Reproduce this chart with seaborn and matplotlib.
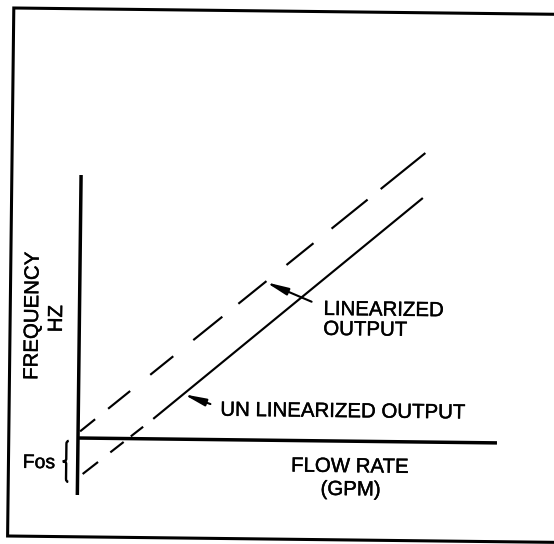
import matplotlib
matplotlib.use("Agg")
import matplotlib.pyplot as plt
import matplotlib.patheffects as pe
import seaborn as sns
from matplotlib.transforms import Affine2D, IdentityTransform
from matplotlib.path import Path
from matplotlib.patches import PathPatch
from matplotlib.lines import Line2D

# ---- data (flow rate vs frequency, arbitrary schematic units) ----
lin_flow = [0.0, 34.4]          # linearized output (dashed)
lin_freq = [0.5, 28.9]
unlin_ext_flow = [0.0, 6.5]     # un-linearized output, extension below axis (dashed)
unlin_ext_freq = [-4.0, 1.2]
unlin_flow = [7.5, 34.2]        # un-linearized output (solid)
unlin_freq = [2.0, 24.4]

x_axis_flow = [0.0, 41.9]
y_axis_freq = [-5.7, 26.3]

x_label_lines = ["FLOW RATE", "(GPM)"]
y_label_lines = ["FREQUENCY", "HZ"]
lin_label_lines = ["LINEARIZED", "OUTPUT"]
unlin_label = "UN LINEARIZED OUTPUT"
offset_label = "Fos"

# ---- style ----
sns.set_theme(style="white")
plt.rcParams["font.family"] = ["Liberation Sans", "DejaVu Sans"]
plt.rcParams["lines.scale_dashes"] = False

W, H, DPI = 554, 544, 100
PT = 72.0 / DPI  # points per pixel
fig = plt.figure(figsize=(W / DPI, H / DPI), dpi=DPI)
fig.patch.set_facecolor("white")
ax = fig.add_axes([0, 0, 1, 1])
ax.set_facecolor("white")

ox_px, oy_px, unit = 78, 438, 10.0
XL = (-ox_px / unit, (W - ox_px) / unit)
YL = (-(H - oy_px) / unit, oy_px / unit)
ax.set_xlim(*XL)
ax.set_ylim(*YL)
ax.axis("off")

ang = -0.67
ox_d, oy_d = ax.transData.transform((0, 0))
rot = Affine2D().rotate_deg_around(ox_d, oy_d, ang)
T = ax.transData + rot


def dash_style(seq_px, lead_gap_px):
    seq = list(seq_px)
    total = sum(seq)
    return ((total - lead_gap_px) * PT, tuple(s * PT for s in seq))


def draw(xs, ys, lw, ls=None):
    n = len(ax.lines)
    sns.lineplot(x=xs, y=ys, ax=ax, color="black", linewidth=lw,
                 sort=False, estimator=None)
    ln = ax.lines[n]
    ln.set_transform(T)
    ln.set_solid_capstyle("butt")
    if ls is not None:
        ln.set_linestyle(ls)
    return ln


# axes
draw(x_axis_flow, [0, 0], 2.5)
draw([0, 0], y_axis_freq, 2.5)

# hand-drawn style dash sequences (pixels along the line)
upper_dash = [19.3, 16.7, 28.3, 25.8, 29.6, 25.7, 37.3, 20.6,
              36.1, 25.7, 34.7, 23.2, 46.3, 16.8, 59.2, 100.0]
lower_dash = [19.5, 15.6, 16.9, 9.1, 16.9, 50.0]

draw(lin_flow, lin_freq, 1.55, dash_style(upper_dash, 2.6))
draw(unlin_ext_flow, unlin_ext_freq, 1.55, dash_style(lower_dash, 6.5))
draw(unlin_flow, unlin_freq, 1.55)

ax.set_xlim(*XL)
ax.set_ylim(*YL)

fs = 14.7
heavy = [pe.withStroke(linewidth=0.3, foreground="black")]
tkw = dict(transform=T, rotation=ang, rotation_mode="anchor",
           fontsize=fs, color="black", path_effects=heavy)
ax.text(24.4, 12.6, lin_label_lines[0], ha="left", va="baseline", **tkw)
ax.text(24.4, 10.6, lin_label_lines[1], ha="left", va="baseline", **tkw)
ax.text(14.2, 2.4, unlin_label, ha="left", va="baseline", **tkw)
ax.text(27.2, -3.1, x_label_lines[0], ha="center", va="baseline", **tkw)
ax.text(27.3, -5.4, x_label_lines[1], ha="center", va="baseline", **tkw)

tkw_fos = dict(tkw)
tkw_fos["fontsize"] = 14
ax.text(-3.87, -3.05, offset_label, ha="center", va="baseline", **tkw_fos)

vkw = dict(tkw)
vkw["rotation"] = 90 + ang
ax.text(-4.14, 12.15, y_label_lines[0], ha="center", va="baseline", **vkw)
ax.text(-1.74, 11.9, y_label_lines[1], ha="center", va="baseline", **vkw)

# leader arrows
akw = dict(arrowstyle="-|>,head_length=1.3,head_width=0.22", color="black",
           lw=1.5, shrinkA=0, shrinkB=0, mutation_scale=10)
ax.annotate("", xy=(18.6, 15.8), xycoords=T, xytext=(23.2, 13.9),
            textcoords=T, arrowprops=akw)
ax.annotate("", xy=(10.5, 4.5), xycoords=T, xytext=(13.2, 3.55),
            textcoords=T, arrowprops=akw)

# brace for Fos
top, bot, xv, xe, xt = -0.3, -4.4, -1.15, -0.92, -1.5
mid = (top + bot) / 2
verts = [(xe, top), (xv, top), (xv, top - 0.3),
         (xv, mid + 0.25), (xv, mid), (xt, mid),
         (xv, mid), (xv, mid - 0.25),
         (xv, bot + 0.3), (xv, bot), (xe, bot)]
codes = [Path.MOVETO, Path.CURVE3, Path.CURVE3,
         Path.LINETO, Path.CURVE3, Path.CURVE3,
         Path.CURVE3, Path.CURVE3,
         Path.LINETO, Path.CURVE3, Path.CURVE3]
ax.add_patch(PathPatch(Path(verts, codes), facecolor="none",
                       edgecolor="black", lw=1.7, transform=T))

# outer frame (slightly tilted scan)
fx = [573.8, 13.8, 7.6, 567.6]
fy = [H - 14.5, H - 8.0, H - 536.0, H - 542.5]
fig.add_artist(Line2D(fx, fy, transform=IdentityTransform(), color="black",
                      lw=2.2, solid_joinstyle="miter"))

fig.savefig("out.png", dpi=DPI, facecolor="white")
